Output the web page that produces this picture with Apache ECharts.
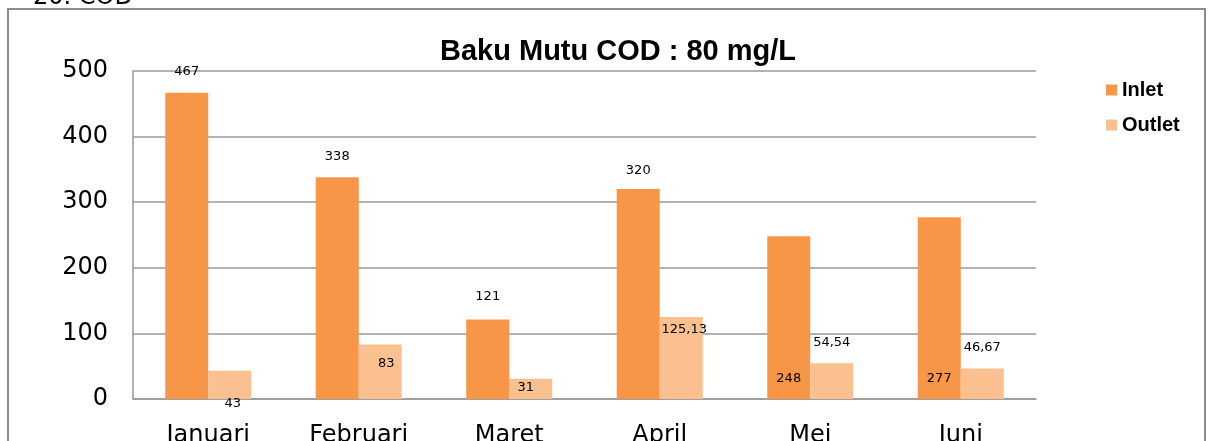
<!DOCTYPE html>
<html>
<head>
<meta charset="utf-8">
<script src="https://cdn.jsdelivr.net/npm/echarts@6/dist/echarts.min.js"></script>
<style>
  html, body { margin: 0; padding: 0; background: #fff; }
  #chart { width: 1211px; height: 441px; }
</style>
</head>
<body>
<div id="chart"></div>
<script>
  var months = ["Januari", "Februari", "Maret", "April", "Mei", "Juni"];
  var inlet = [467, 338, 121, 320, 248, 277];
  var outlet = [43, 83, 31, 125.13, 54.54, 46.67];
  var yTicks = [0, 100, 200, 300, 400, 500];

  // label placement per bar, as in the original sheet
  var inletLabels = [
    { position: "top", distance: 15 },
    { position: "top", distance: 14 },
    { position: "top", distance: 16 },
    { position: "top", distance: 12 },
    { position: "insideBottom", distance: 14 },
    { position: "insideBottom", distance: 14 }
  ];
  var outletLabels = [
    { position: "bottom", distance: -2, offset: [3, 0] },
    { position: "insideTop", distance: 13, offset: [6, 0] },
    { position: "insideTop", distance: 2, offset: [-5, 0] },
    { position: "insideTop", distance: 6, offset: [3, 0] },
    { position: "top", distance: 14 },
    { position: "top", distance: 14 }
  ];

  function withLabels(values, labels) {
    return values.map(function (v, i) {
      return { value: v, label: labels[i] };
    });
  }

  function commaFormat(p) {
    return String(p.value).replace(".", ",");
  }

  var chartDom = document.getElementById("chart");
  var myChart = echarts.init(chartDom, null, { renderer: "canvas" });
  var lineColor = "#999999";
  var labelFont = "DejaVu Sans";

  var option = {
    animation: false,
    title: {
      text: "Baku Mutu COD : 80 mg/L",
      left: 435,
      top: 32,
      textStyle: {
        fontFamily: "Liberation Sans",
        fontWeight: "bold",
        fontSize: 29,
        color: "#000"
      }
    },
    legend: {
      orient: "vertical",
      left: 1101,
      top: 75,
      itemWidth: 11,
      itemHeight: 11,
      itemGap: 15,
      icon: "rect",
      textStyle: {
        fontFamily: "Liberation Sans",
        fontWeight: "bold",
        fontSize: 20,
        color: "#000"
      },
      data: ["Inlet", "Outlet"]
    },
    graphic: [
      {
        type: "rect",
        shape: { x: 8, y: 9, width: 1197, height: 460 },
        style: { fill: "none", stroke: "#8c8c8c", lineWidth: 2 },
        silent: true
      },
      {
        type: "text",
        x: 33,
        y: 10,
        style: {
          text: "20. COD",
          font: "24px DejaVu Sans",
          fill: "#000",
          verticalAlign: "bottom"
        },
        silent: true
      }
    ],
    grid: {
      left: 133,
      right: 175,
      top: 71,
      bottom: 42,
      containLabel: false,
      outerBoundsMode: "none"
    },
    xAxis: {
      type: "category",
      data: months,
      axisTick: { show: false },
      axisLine: { lineStyle: { color: lineColor, width: 1.5 } },
      axisLabel: {
        margin: 25,
        fontFamily: labelFont,
        fontSize: 24,
        color: "#000"
      }
    },
    yAxis: {
      type: "value",
      min: yTicks[0],
      max: yTicks[yTicks.length - 1],
      interval: 100,
      axisLine: { show: true, lineStyle: { color: lineColor, width: 1.5 } },
      axisTick: { show: false },
      splitLine: { lineStyle: { color: lineColor, width: 1.5 } },
      axisLabel: {
        margin: 25,
        fontFamily: labelFont,
        fontSize: 24,
        color: "#000"
      }
    },
    series: [
      {
        name: "Inlet",
        type: "bar",
        barWidth: 43,
        barGap: "0%",
        itemStyle: { color: "#F79646" },
        label: {
          show: true,
          fontFamily: labelFont,
          fontSize: 13,
          color: "#000",
          formatter: commaFormat
        },
        data: withLabels(inlet, inletLabels)
      },
      {
        name: "Outlet",
        type: "bar",
        barWidth: 43,
        barGap: "0%",
        itemStyle: { color: "#FAC090" },
        label: {
          show: true,
          fontFamily: labelFont,
          fontSize: 13,
          color: "#000",
          formatter: commaFormat
        },
        data: withLabels(outlet, outletLabels)
      }
    ]
  };

  option && myChart.setOption(option);
  window.addEventListener("resize", function () {
    myChart.resize();
  });
</script>
</body>
</html>
